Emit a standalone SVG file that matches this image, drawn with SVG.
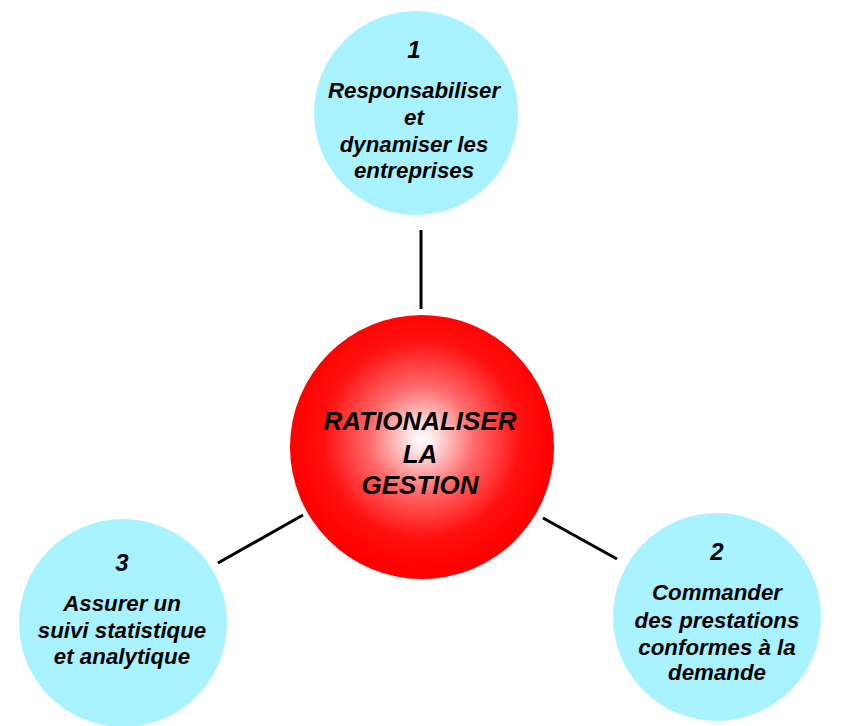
<svg xmlns="http://www.w3.org/2000/svg" width="843" height="726" viewBox="0 0 843 726">
<defs>
<radialGradient id="redglow" cx="0.5" cy="0.47" r="0.5">
<stop offset="0" stop-color="#ffffff"/>
<stop offset="0.1" stop-color="#ffe4e4"/>
<stop offset="0.4" stop-color="#ff6a6a"/>
<stop offset="0.75" stop-color="#ff1010"/>
<stop offset="1" stop-color="#ff0000"/>
</radialGradient>
<style>
.sat{fill:#a8f3ff;}
.t{font-family:"Liberation Sans",Arial,sans-serif;font-weight:bold;font-style:italic;font-size:22.3px;fill:#000;text-anchor:middle;}
.n{font-size:24px;}
.c{font-size:26px;}
.link{stroke:#000;stroke-width:3;fill:none;}
</style>
</defs>
<rect width="843" height="726" fill="#fff"/>
<g id="connectors">
<line class="link" x1="421" y1="230" x2="421" y2="309"/>
<line class="link" x1="218" y1="563" x2="303" y2="515"/>
<line class="link" x1="543" y1="518" x2="617" y2="559"/>
</g>
<g id="center">
<circle cx="422" cy="447" r="132" fill="url(#redglow)"/>
<text class="t c" x="420" y="430">RATIONALISER</text>
<text class="t c" x="420" y="463">LA</text>
<text class="t c" x="420" y="494">GESTION</text>
</g>
<g id="node1">
<circle class="sat" cx="416" cy="113" r="102"/>
<text class="t n" x="414" y="58">1</text>
<text class="t" x="414" y="98">Responsabiliser</text>
<text class="t" x="414" y="125">et</text>
<text class="t" x="414" y="152">dynamiser les</text>
<text class="t" x="414" y="178">entreprises</text>
</g>
<g id="node2">
<circle class="sat" cx="717" cy="617" r="104"/>
<text class="t n" x="717" y="560">2</text>
<text class="t" x="717" y="600">Commander</text>
<text class="t" x="717" y="628">des prestations</text>
<text class="t" x="717" y="655">conformes à la</text>
<text class="t" x="717" y="680">demande</text>
</g>
<g id="node3">
<circle class="sat" cx="123" cy="623" r="104"/>
<text class="t n" x="122" y="571">3</text>
<text class="t" x="122" y="611">Assurer un</text>
<text class="t" x="122" y="638">suivi statistique</text>
<text class="t" x="122" y="664">et analytique</text>
</g>
</svg>
